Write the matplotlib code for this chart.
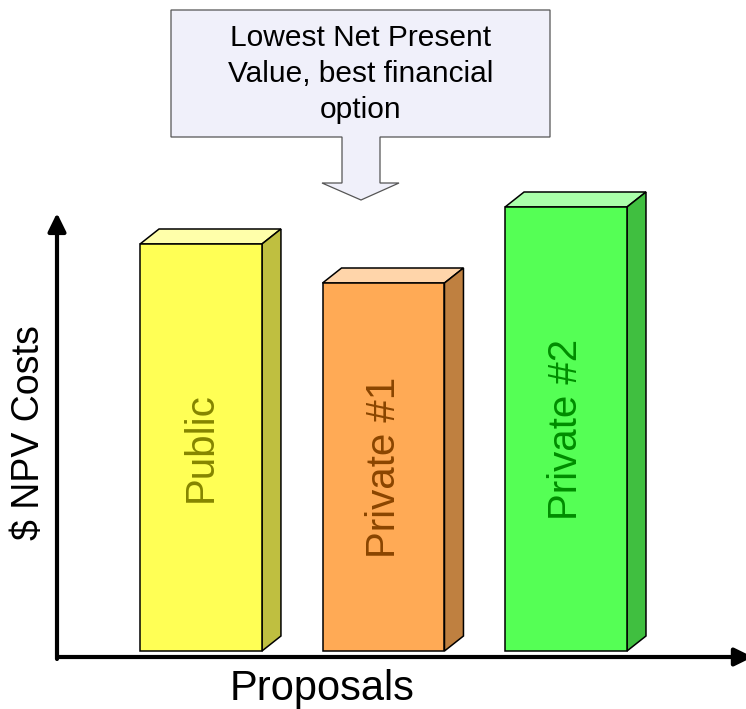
# NPV cost comparison of the three proposals, drawn as 3D-looking bars
import numpy as np
import matplotlib
matplotlib.use('Agg')
import matplotlib.pyplot as plt
from matplotlib.patches import Polygon

plt.rcParams['font.family'] = ['Liberation Sans', 'DejaVu Sans']

# data (relative NPV cost, the chart has no scale)
proposals = ['Public', 'Private #1', 'Private #2']
npv_cost = [407, 368, 444]
front_colors = ['#ffff55', '#ffaa55', '#55ff55']
top_colors = ['#ffffaa', '#ffd5aa', '#aaffaa']
side_colors = ['#bfbf40', '#bf8040', '#40bf40']
label_colors = ['#858500', '#8a4500', '#008c00']
callout_text = 'Lowest Net Present\nValue, best financial\noption'

W, H = 746, 709
fig = plt.figure(figsize=(W / 100, H / 100), dpi=100)
ax = fig.add_axes([57 / W, (H - 657) / H, (W - 57) / W, (657 - 213) / H])

x = np.arange(len(proposals))
bar_w = 0.668
dx, dy = 0.104, 15   # depth of the fake 3D
ax.set_xlim(-0.789, 2.986)
ax.set_ylim(-6, 438)

bars = ax.bar(x, npv_cost, width=bar_w, color=front_colors, edgecolor='black',
              linewidth=1.1, clip_on=False, zorder=3)
for b, tc, sc, lab, lc in zip(bars, top_colors, side_colors, proposals, label_colors):
    x0 = b.get_x()
    x1 = x0 + b.get_width()
    h = b.get_height()
    top = Polygon([(x0, h), (x1, h), (x1 + dx, h + dy), (x0 + dx, h + dy)],
                  closed=True, facecolor=tc, edgecolor='black', lw=1.1,
                  clip_on=False, zorder=2)
    side = Polygon([(x1, 0), (x1 + dx, dy), (x1 + dx, h + dy), (x1, h)],
                   closed=True, facecolor=sc, edgecolor='black', lw=1.1,
                   clip_on=False, zorder=2)
    ax.add_patch(top)
    ax.add_patch(side)
    ax.text((x0 + x1) / 2, h / 2, lab, rotation=90, ha='center', va='center',
            rotation_mode='anchor', fontsize=29, color=lc, zorder=4)

# axes drawn as arrows
for sp in ax.spines.values():
    sp.set_visible(False)
ax.set_xticks([])
ax.set_yticks([])
arrow = dict(arrowstyle='-|>,head_length=0.55,head_width=0.27', lw=3, color='black',
             shrinkA=0, shrinkB=0, mutation_scale=20)
ax.annotate('', xy=(0, 1), xytext=(0, -0.0045), xycoords='axes fraction',
            arrowprops=arrow, annotation_clip=False)
ax.annotate('', xy=(1.01, 0), xytext=(0, 0), xycoords='axes fraction',
            arrowprops=arrow, annotation_clip=False)

ax.set_xlabel('Proposals', fontsize=30)
ax.xaxis.set_label_coords(0.384, -0.0968)
ax.xaxis.label.set_verticalalignment('baseline')
ax.set_ylabel('$ NPV Costs', fontsize=27)
ax.yaxis.set_label_coords(-0.041, 0.505)
ax.yaxis.label.set_verticalalignment('center')

# down-arrow callout above the chart
def px(xp, yp):
    return (xp / W, 1 - yp / H)

callout = [(171, 10), (550, 10), (550, 137), (380, 137), (380, 183), (399, 183),
           (361, 200), (322, 183), (342, 183), (342, 137), (171, 137)]
fig.add_artist(Polygon([px(a, b) for a, b in callout], closed=True,
                       facecolor='#f0f0fa', edgecolor='#555555', lw=0.9,
                       transform=fig.transFigure))
fig.text(*px(360.5, 74), callout_text, ha='center', va='center', fontsize=21.5,
         linespacing=1.38, color='black')

fig.savefig('out.png', dpi=100)
